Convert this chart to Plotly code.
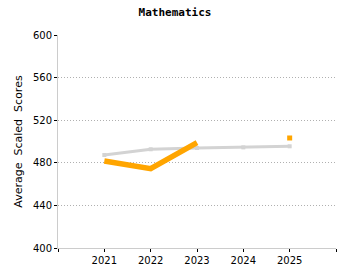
import plotly.graph_objects as go

years = [2021, 2022, 2023, 2024, 2025]
gray_scores = [487.3, 492.7, 493.9, 494.5, 495.5]
orange_years = [2021, 2022, 2023]
orange_scores = [481.7, 474.5, 498.9]
orange_point_year = [2025]
orange_point_score = [503.3]

y_ticks = [400, 440, 480, 520, 560, 600]

fig = go.Figure()
fig.add_trace(go.Scatter(x=years, y=gray_scores, mode="lines+markers",
                         line=dict(color="#d3d3d3", width=3),
                         marker=dict(color="#d3d3d3", size=4, symbol="square"),
                         showlegend=False, hoverinfo="skip"))
fig.add_trace(go.Scatter(x=orange_years, y=orange_scores, mode="lines",
                         line=dict(color="#ffa500", width=5.5),
                         showlegend=False, hoverinfo="skip"))
fig.add_trace(go.Scatter(x=orange_point_year, y=orange_point_score, mode="markers",
                         marker=dict(color="#ffa500", size=5, symbol="square"),
                         showlegend=False, hoverinfo="skip"))

fig.update_layout(
    width=350, height=280,
    margin=dict(l=58, r=14, t=35, b=32),
    paper_bgcolor="white", plot_bgcolor="white",
    font=dict(family="DejaVu Sans", size=10, color="black"),
    title=dict(text="<b>Mathematics</b>", x=0.5, xanchor="center", y=0.955, yanchor="middle",
               font=dict(family="DejaVu Sans Mono", size=11, color="black")),
    xaxis=dict(range=[2020, 2026], tickvals=[2020, 2021, 2022, 2023, 2024, 2025, 2026],
               ticktext=["", "2021", "2022", "2023", "2024", "2025", ""],
               showgrid=False, zeroline=False, showline=True, linecolor="#cccccc", linewidth=1,
               ticks="outside", ticklen=3, tickcolor="black", tickfont=dict(size=10)),
    yaxis=dict(range=[400, 600], tickvals=y_ticks,
               showgrid=True, gridcolor="#b0b0b0", griddash="1px,2px", gridwidth=1,
               zeroline=False, showline=True, linecolor="#cccccc", linewidth=1,
               ticks="outside", ticklen=3, tickcolor="black", tickfont=dict(size=10),
               title=dict(text="Average  Scaled  Scores", font=dict(size=11), standoff=8)),
)

fig.write_html("out.html")
